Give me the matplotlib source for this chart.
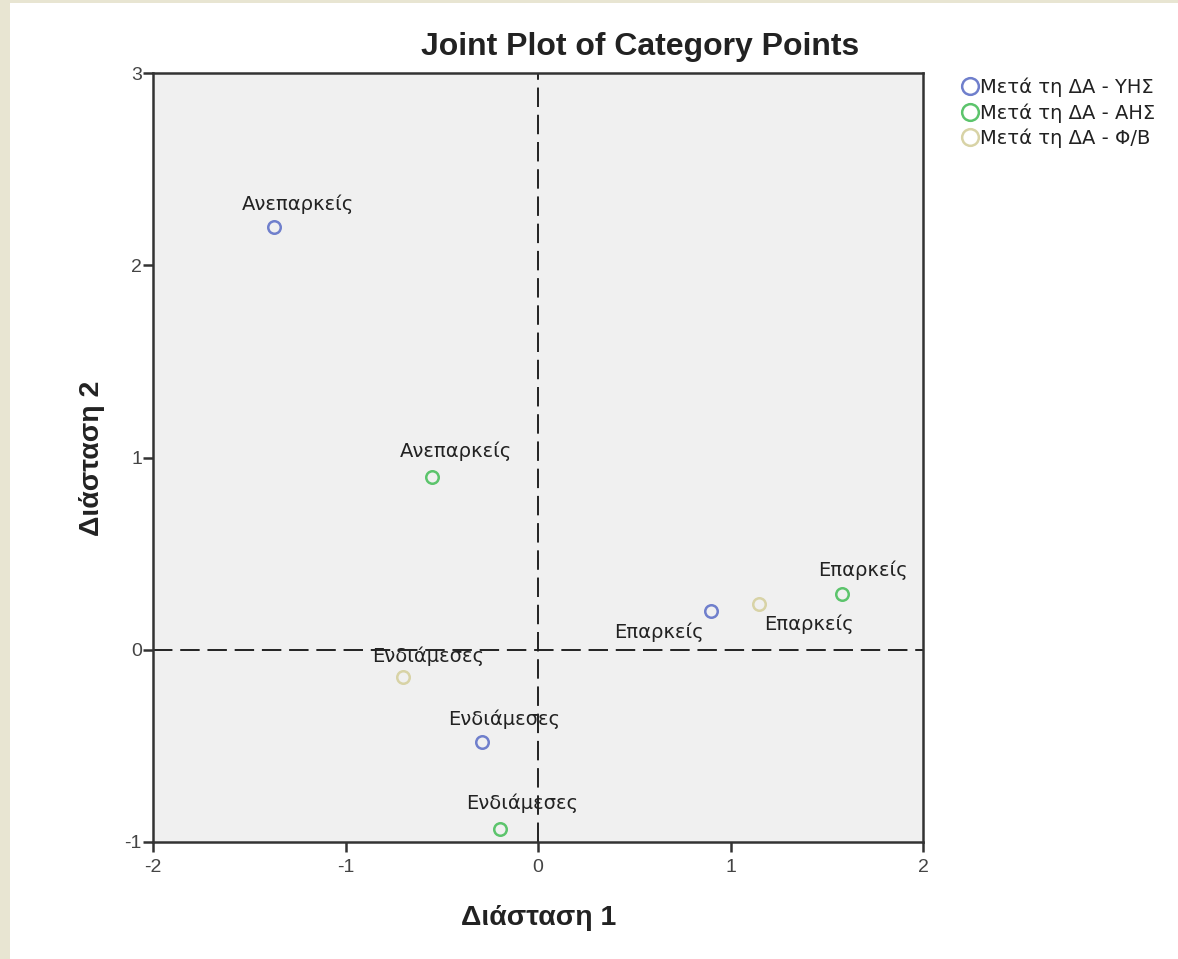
import matplotlib
matplotlib.use("Agg")
import matplotlib.pyplot as plt
from matplotlib.patches import Rectangle
from matplotlib.lines import Line2D

plt.rcParams['font.family'] = ['Liberation Sans', 'DejaVu Sans']
plt.rcParams['axes.unicode_minus'] = False

# Category point coordinates per series
series_names = ["Μετά τη ΔΑ - ΥΗΣ", "Μετά τη ΔΑ - ΑΗΣ", "Μετά τη ΔΑ - Φ/Β"]
series_colors = ["#6f7fcc", "#5cc46c", "#d8d3a6"]

categories = ["Ανεπαρκείς", "Επαρκείς", "Ενδιάμεσες"]
yhs_dim1 = [-1.37, 0.90, -0.29]
yhs_dim2 = [2.20, 0.20, -0.48]
ahs_dim1 = [-0.55, 1.58, -0.20]
ahs_dim2 = [0.90, 0.29, -0.93]
fb_dim1 = [1.15, -0.70]
fb_dim2 = [0.24, -0.14]
fb_categories = ["Επαρκείς", "Ενδιάμεσες"]

x_ticks = [-2, -1, 0, 1, 2]
y_ticks = [-1, 0, 1, 2, 3]

fig = plt.figure(figsize=(11.78, 9.59), dpi=100)
fig.patch.set_facecolor("white")
# beige frame strips on left and top edges
fig.patches.append(Rectangle((0, 0), 10 / 1178, 1, transform=fig.transFigure,
                             facecolor="#e8e5d2", edgecolor="none", zorder=0))
fig.patches.append(Rectangle((0, 1 - 3 / 959), 1, 3 / 959, transform=fig.transFigure,
                             facecolor="#e8e5d2", edgecolor="none", zorder=0))

ax = fig.add_axes([153 / 1178, 1 - 842 / 959, 770 / 1178, 769 / 959])
ax.set_facecolor("#f0f0f0")
ax.set_xlim(-2, 2)
ax.set_ylim(-1, 3)
ax.set_xticks(x_ticks)
ax.set_yticks(y_ticks)
ax.tick_params(direction="out", length=7, width=1.8, color="#333333",
               labelsize=14, labelcolor="#444444")
ax.tick_params(axis="x", pad=5)
ax.tick_params(axis="y", pad=1)
for s in ax.spines.values():
    s.set_linewidth(1.8)
    s.set_color("#333333")

ax.axhline(0, color="#222222", lw=1.4, dashes=(10, 4), zorder=1)
ax.axvline(0, color="#222222", lw=1.4, dashes=(10, 4), zorder=1)

mk = dict(marker="o", ms=9, mfc="none", mew=1.8, ls="none", zorder=3)
ax.plot(yhs_dim1, yhs_dim2, mec=series_colors[0], **mk)
ax.plot(ahs_dim1, ahs_dim2, mec=series_colors[1], **mk)
ax.plot(fb_dim1, fb_dim2, mec=series_colors[2], **mk)

lab = dict(fontsize=14, color="#222222", textcoords="offset points",
           family=["DejaVu Sans"], ha="center", va="center")
# labels for each point, placed by an offset from the marker
ax.annotate(categories[0], (yhs_dim1[0], yhs_dim2[0]), xytext=(17, 16.5), **lab)
ax.annotate(categories[1], (yhs_dim1[1], yhs_dim2[1]), xytext=(-38, -15), **lab)
ax.annotate(categories[2], (yhs_dim1[2], yhs_dim2[2]), xytext=(16, 16.5), **lab)
ax.annotate(categories[0], (ahs_dim1[0], ahs_dim2[0]), xytext=(17, 18), **lab)
ax.annotate(categories[1], (ahs_dim1[1], ahs_dim2[1]), xytext=(15, 17), **lab)
ax.annotate(categories[2], (ahs_dim1[2], ahs_dim2[2]), xytext=(16, 18), **lab)
ax.annotate(fb_categories[0], (fb_dim1[0], fb_dim2[0]), xytext=(36, -15), **lab)
ax.annotate(fb_categories[1], (fb_dim1[1], fb_dim2[1]), xytext=(18, 15), **lab)

fig.text(640 / 1178, 1 - 47 / 959, "Joint Plot of Category Points", ha="center",
         va="center", fontsize=23, fontweight="bold", color="#222222")
fig.text(539 / 1178, 1 - 918 / 959, "Διάσταση 1", ha="center", va="center",
         fontsize=20.5, fontweight="bold", color="#222222")
fig.text(92 / 1178, 1 - 458 / 959, "Διάσταση 2", ha="center", va="center",
         rotation=90, fontsize=20.5, fontweight="bold", color="#222222")

handles = [Line2D([], [], marker="o", ms=12, mfc="none", mew=1.8, ls="none",
                  mec=c) for c in series_colors]
fig.legend(handles, series_names, loc="upper left",
           bbox_to_anchor=(953 / 1178, 1 - 68 / 959), frameon=False,
           prop={"family": ["DejaVu Sans"], "size": 14},
           handlelength=0.7, handletextpad=0.2,
           labelspacing=0.3, borderpad=0, labelcolor="#222222")

fig.savefig("out.png", dpi=100, facecolor=fig.get_facecolor())
